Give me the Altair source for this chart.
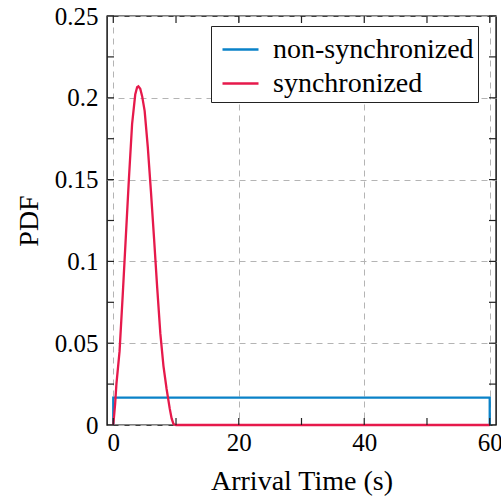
import altair as alt
import pandas as pd

# ---- data ----
series_names = ["non-synchronized", "synchronized"]

t_non = [0, 0, 60, 60]
pdf_non = [0, 0.0167, 0.0167, 0]

t_sync = [0, 0.3, 0.5, 1.0, 1.5, 2.0, 2.5, 3.0, 3.5, 3.8, 4.0, 4.3, 4.6, 5.0, 5.5,
          6.0, 6.5, 7.0, 7.5, 8.0, 8.5, 9.0, 9.3, 9.6, 10.0, 60]
pdf_sync = [0, 0.013, 0.025, 0.045, 0.079, 0.115, 0.151, 0.184, 0.202, 0.2065,
            0.207, 0.2055, 0.201, 0.192, 0.170, 0.143, 0.114, 0.084, 0.056, 0.036,
            0.022, 0.010, 0.004, 0.0005, 0, 0]

x_major = [0, 20, 40, 60]
x_all = [0, 10, 20, 30, 40, 50, 60]
y_major = [0, 0.05, 0.1, 0.15, 0.2, 0.25]
y_all = [0, 0.025, 0.05, 0.075, 0.1, 0.125, 0.15, 0.175, 0.2, 0.225, 0.25]
x_lim = [-1, 61]
y_lim = [0, 0.25]

colors = ["#0a82c8", "#e6194b"]

rows = []
for i, (t, p) in enumerate(zip(t_non, pdf_non)):
    rows.append({"t": t, "pdf": p, "series": series_names[0], "order": i})
for i, (t, p) in enumerate(zip(t_sync, pdf_sync)):
    rows.append({"t": t, "pdf": p, "series": series_names[1], "order": i})
df = pd.DataFrame(rows)

# tick positions along each edge of the frame
ticks_bottom = pd.DataFrame({"t": x_all, "pdf": [y_lim[0]] * len(x_all)})
ticks_top = pd.DataFrame({"t": x_all, "pdf": [y_lim[1]] * len(x_all)})
ticks_left = pd.DataFrame({"t": [x_lim[0]] * len(y_all), "pdf": y_all})
ticks_right = pd.DataFrame({"t": [x_lim[1]] * len(y_all), "pdf": y_all})

FONT = "Liberation Serif"
W, H = 389, 409

xscale = alt.Scale(domain=x_lim, nice=False, zero=False)
yscale = alt.Scale(domain=y_lim, nice=False, zero=False)

xaxis = alt.Axis(
    orient="bottom", values=x_major, grid=True, gridDash=[6, 5],
    gridColor="#b4b4b4", gridWidth=1, ticks=False, domain=False,
    labelFont=FONT, labelFontSize=25, labelColor="black", labelPadding=5,
    title="Arrival Time (s)", titleFont=FONT, titleFontSize=28,
    titleFontWeight="normal", titleColor="black", titlePadding=12)
yaxis = alt.Axis(
    orient="left", values=y_major, format="~g", grid=True, gridDash=[6, 5],
    gridColor="#b4b4b4", gridWidth=1, ticks=False, domain=False,
    labelFont=FONT, labelFontSize=25, labelColor="black", labelPadding=9,
    title="PDF", titleFont=FONT, titleFontSize=28, titleFontWeight="normal",
    titleColor="black", titlePadding=11)

enc_x = alt.X("t:Q", scale=xscale, axis=xaxis)
enc_y = alt.Y("pdf:Q", scale=yscale, axis=yaxis)

main = alt.Chart(df).mark_line(strokeWidth=2.3, clip=False).encode(
    x=enc_x,
    y=enc_y,
    color=alt.Color("series:N", scale=alt.Scale(domain=series_names, range=colors),
                    legend=alt.Legend(
                        orient="none", legendX=104, legendY=10, title=None,
                        symbolType="stroke", symbolSize=1296, symbolStrokeWidth=2.5,
                        symbolOffset=6,
                        labelFont=FONT, labelFontSize=28, labelColor="black",
                        labelLimit=400, labelOffset=13, rowPadding=-10, padding=4,
                        strokeColor="#222222", fillColor="white", cornerRadius=0)),
    order="order:Q",
    detail="series:N",
)

tick_style = dict(color="#222222", thickness=1.2, size=7, opacity=1)

x_bottom = alt.Chart(ticks_bottom).mark_tick(orient="vertical", yOffset=-3.5, **tick_style).encode(
    x=enc_x, y=enc_y)
x_top = alt.Chart(ticks_top).mark_tick(orient="vertical", yOffset=3.5, **tick_style).encode(
    x=enc_x, y=enc_y)
y_left = alt.Chart(ticks_left).mark_tick(orient="horizontal", xOffset=3.5, **tick_style).encode(
    x=enc_x, y=enc_y)
y_right = alt.Chart(ticks_right).mark_tick(orient="horizontal", xOffset=-3.5, **tick_style).encode(
    x=enc_x, y=enc_y)

chart = alt.layer(
    main, x_bottom, x_top, y_left, y_right,
).properties(
    width=W, height=H,
    padding={"left": 107, "top": 16, "right": 5, "bottom": 74},
    autosize=alt.AutoSizeParams(type="none"),
).configure(font=FONT).configure_view(stroke="black", strokeWidth=1.4)

chart.save("out.html", embed_options={"renderer": "svg", "actions": False})
